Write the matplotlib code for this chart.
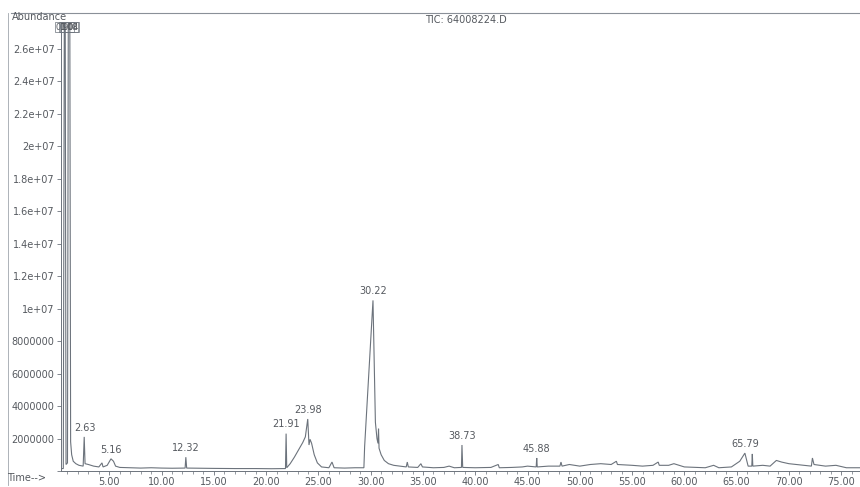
import matplotlib
matplotlib.use("Agg")
import matplotlib.pyplot as plt
from matplotlib.lines import Line2D
from matplotlib.ticker import MultipleLocator, FuncFormatter

# ---- data ----
# retention time (min) and abundance (x1e6) of the TIC trace vertices
trace_time = [0.10, 0.60, 0.70, 0.78, 0.86, 1.00, 1.08, 1.22, 1.30, 1.40, 1.55, 1.80,
              2.10, 2.50, 2.60, 2.68, 3.00, 3.50, 4.00, 4.30, 4.40, 4.80, 5.16, 5.40,
              5.60, 6.00, 7.00, 8.00, 9.00, 10.0, 11.0, 12.25, 12.32, 12.40, 13.5, 15.0,
              17.0, 19.0, 20.5, 21.85, 21.91, 21.97, 22.3, 22.7, 23.1, 23.5, 23.75, 23.98,
              24.10, 24.20, 24.35, 24.6, 24.9, 25.3, 26.0, 26.3, 26.5, 27.5, 28.5, 29.35,
              29.42, 30.22, 30.45, 30.60, 30.70, 30.75, 30.80, 31.0, 31.3, 31.7, 32.2, 32.8,
              33.4, 33.5, 33.6, 34.5, 34.8, 34.95, 36.0, 37.0, 37.5, 38.0, 38.68, 38.73,
              38.80, 40.0, 41.5, 42.2, 42.3, 43.5, 44.5, 45.0, 45.83, 45.88, 45.93, 47.0,
              48.1, 48.2, 48.3, 49.0, 50.0, 50.5, 51.0, 52.0, 53.0, 53.5, 53.6, 55.0,
              56.0, 57.0, 57.5, 57.6, 58.5, 59.0, 60.0, 62.0, 62.8, 63.3, 64.5, 65.3,
              65.79, 66.1, 66.45, 66.50, 66.55, 67.5, 68.2, 68.8, 69.3, 70.0, 71.5, 72.15,
              72.25, 72.4, 73.5, 74.5, 75.5, 76.8]
trace_abund = [0.15, 0.15, 29.0, 29.0, 0.40, 0.50, 29.0, 29.0, 1.80, 1.00, 0.60, 0.45,
               0.35, 0.30, 2.10, 0.45, 0.40, 0.30, 0.25, 0.50, 0.25, 0.35, 0.75, 0.60,
               0.30, 0.22, 0.20, 0.18, 0.20, 0.18, 0.17, 0.18, 0.85, 0.18, 0.17, 0.16,
               0.15, 0.15, 0.14, 0.15, 2.30, 0.20, 0.45, 0.85, 1.30, 1.75, 2.10, 3.20,
               1.60, 1.95, 1.70, 1.00, 0.50, 0.25, 0.20, 0.55, 0.20, 0.18, 0.20, 0.20,
               1.50, 10.5, 3.00, 2.00, 1.70, 2.60, 1.40, 1.00, 0.65, 0.45, 0.35, 0.30,
               0.25, 0.55, 0.25, 0.22, 0.45, 0.25, 0.20, 0.22, 0.30, 0.20, 0.22, 1.60,
               0.22, 0.20, 0.22, 0.40, 0.20, 0.22, 0.25, 0.30, 0.25, 0.80, 0.25, 0.30,
               0.30, 0.55, 0.30, 0.40, 0.30, 0.35, 0.40, 0.45, 0.40, 0.60, 0.40, 0.35,
               0.30, 0.35, 0.55, 0.35, 0.35, 0.45, 0.25, 0.20, 0.35, 0.20, 0.25, 0.60,
               1.10, 0.30, 0.30, 1.05, 0.30, 0.35, 0.30, 0.65, 0.55, 0.45, 0.35, 0.30,
               0.80, 0.40, 0.30, 0.35, 0.20, 0.20]

# labelled peaks: retention time, apex abundance (x1e6)
peak_rt = [2.63, 5.16, 12.32, 21.91, 23.98, 30.22, 38.73, 45.88, 65.79]
peak_apex = [2.10, 0.75, 0.85, 2.30, 3.20, 10.5, 1.60, 0.80, 1.10]
# overlapping solvent-peak labels at the top
solvent_rt = [0.72, 1.10, 1.20]
solvent_labels = ["0.90", "1.08", "1.04"]

x_major = 5
x_minor = 1
y_step = 2.0  # x1e6

TXT = "#55595f"
LINE = "#6c737c"

fig = plt.figure(figsize=(8.6, 4.87), dpi=100)
W, H = 860, 487
ax = fig.add_axes([61 / W, (H - 471) / H, (W - 61) / W, (471 - 23) / H])

ax.plot(trace_time, [v * 1e6 for v in trace_abund], color=LINE, lw=0.8,
        solid_joinstyle="miter")

ax.set_xlim(0.38, 76.8)
ax.set_ylim(0, 27.57e6)

for rt, ap in zip(peak_rt, peak_apex):
    ax.annotate(f"{rt:.2f}", (rt, ap * 1e6), xytext=(0, 3), textcoords="offset points",
                ha="center", va="bottom", fontsize=7, color=TXT)
for rt, lab in zip(solvent_rt, solvent_labels):
    ax.text(rt, 27.3e6, lab, ha="center", va="center", fontsize=6, color=TXT,
            bbox=dict(boxstyle="square,pad=0.05", fc="none", ec=LINE, lw=0.5))

ax.xaxis.set_major_locator(MultipleLocator(x_major))
ax.xaxis.set_minor_locator(MultipleLocator(x_minor))
ax.xaxis.set_major_formatter(FuncFormatter(lambda v, p: f"{v:.2f}"))
ax.yaxis.set_major_locator(MultipleLocator(y_step * 1e6))


def yfmt(v, p):
    if v <= 0:
        return ""
    if v >= 1e7:
        s = f"{v:.1e}".replace(".0e", "e")
        return s
    return f"{int(round(v))}"


ax.yaxis.set_major_formatter(FuncFormatter(yfmt))
ax.tick_params(axis="x", which="major", direction="out", length=3, width=0.6,
               colors=LINE, labelcolor=TXT, labelsize=7, pad=1)
ax.tick_params(axis="x", which="minor", direction="out", length=2, width=0.5, colors=LINE)
ax.tick_params(axis="y", which="major", direction="out", length=3, width=0.6,
               colors=LINE, labelcolor=TXT, labelsize=7, pad=1.5)

for s in ["top", "right"]:
    ax.spines[s].set_visible(False)
for s in ["left", "bottom"]:
    ax.spines[s].set_color(LINE)
    ax.spines[s].set_linewidth(0.7)

# outer frame of the print-out
fig.add_artist(Line2D([11 / W, 1.0], [(H - 13) / H, (H - 13) / H], color="#8a9098", lw=0.8))
fig.add_artist(Line2D([8 / W, 8 / W], [(H - 13) / H, (H - 485) / H], color="#a0a6ad", lw=0.6))

fig.text(12 / W, (H - 17) / H, "Abundance", ha="left", va="center", fontsize=7, color=TXT)
fig.text(466 / W, (H - 20) / H, "TIC: 64008224.D", ha="center", va="center", fontsize=7,
         color=TXT)
fig.text(7 / W, (H - 478) / H, "Time-->", ha="left", va="center", fontsize=7, color=TXT)

fig.savefig("out.png", dpi=100, facecolor="white")
